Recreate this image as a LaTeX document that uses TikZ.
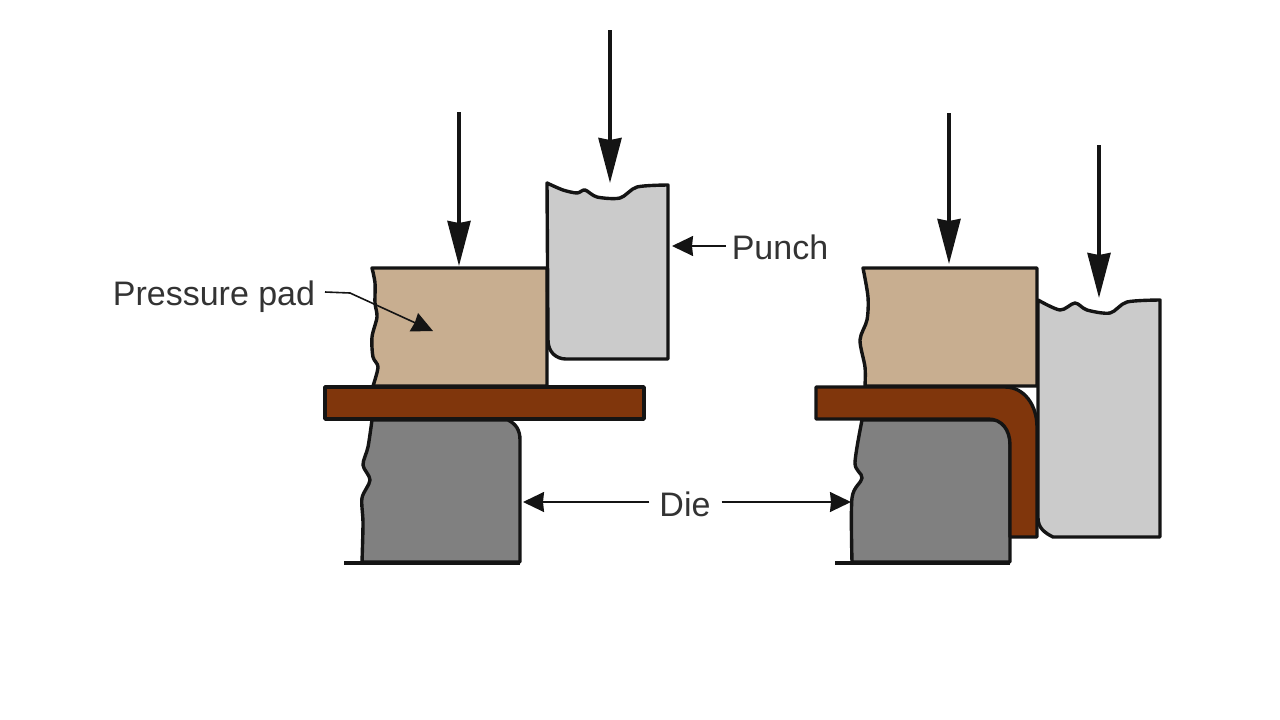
\documentclass[tikz,border=0pt]{standalone}
\usepackage{fontspec}
\setmainfont{Liberation Sans}
\usetikzlibrary{arrows.meta}
\definecolor{padc}{HTML}{C8AE90}
\definecolor{punchc}{HTML}{CBCBCB}
\definecolor{diec}{HTML}{808080}
\definecolor{platec}{HTML}{80360C}
\definecolor{inkc}{HTML}{141414}
\definecolor{labelc}{HTML}{333333}
\tikzset{
  part/.style={draw=inkc,line width=3.4pt,line join=round},
  padpart/.style={part,fill=padc},
  punchpart/.style={part,fill=punchc},
  diepart/.style={part,fill=diec},
  platepart/.style={part,fill=platec},
  force/.style={draw=inkc,line width=3.6pt,-{Stealth[length=45pt,width=23pt,inset=2pt]}},
  pointer/.style={draw=inkc,line width=1.6pt,-{Stealth[length=21pt,width=20pt,inset=1pt]}},
  lab/.style={inner sep=0pt,text=labelc,font=\fontsize{34}{34}\selectfont}
}
\begin{document}
\begin{tikzpicture}[x=1pt,y=-1pt]
\useasboundingbox (0,0) rectangle (1280,720);
% left station
\path[padpart] plot[smooth,tension=.5] coordinates {(372,268)(375,283)(375,303)(377,317)(372,337)(373,357)(378,367)(373,386)} -- (547,386) -- (547,268) -- cycle;
\path[punchpart] plot[smooth,tension=.5] coordinates {(547,183)(563,190)(577,193)(585,190)(597,197)(620,198)(637,187)(668,185)} -- (668,359) -- (566,359) .. controls (556,359) and (548,352) .. (548,340) -- cycle;
\path[diepart] plot[smooth,tension=.5] coordinates {(372,420)(368,447)(363,465)(370,480)(362,498)(363,523)(362,562)} -- (520,562) -- (520,440) .. controls (520,430) and (516,424) .. (508,420) -- cycle;
\path[part] (344,563) -- (520,563);
\path[platepart] (325,387) rectangle (644,419);
% right station
\path[padpart] plot[smooth,tension=.5] coordinates {(863,268)(868,297)(867,320)(860,340)(865,367)(865,386)} -- (1037,386) -- (1037,268) -- cycle;
\path[punchpart] plot[smooth,tension=.5] coordinates {(1038,300)(1060,310)(1075,303)(1087,310)(1110,313)(1127,302)(1160,300)} -- (1160,537) -- (1053,537) .. controls (1045,533) and (1038,528) .. (1038,518) -- cycle;
\path[diepart] plot[smooth,tension=.5] coordinates {(862,420)(855,463)(862,478)(852,498)(852,562)} -- (1010,562) -- (1010,420) -- cycle;
\path[part] (835,563) -- (1010,563);
\path[platepart] (816,387) -- (1005,387) .. controls (1024,387) and (1037,405) .. (1037,427) -- (1037,537) -- (1010,537) -- (1010,445) .. controls (1010,430) and (1002,419) .. (988,419) -- (816,419) -- cycle;
% force arrows
\coordinate (fa1) at (459,112); \coordinate (fb1) at (459,266);
\coordinate (fa2) at (610,30);  \coordinate (fb2) at (610,183);
\coordinate (fa3) at (949,113); \coordinate (fb3) at (949,264);
\coordinate (fa4) at (1099,145);\coordinate (fb4) at (1099,298);
\draw[force] (fa1) -- (fb1);
\draw[force] (fa2) -- (fb2);
\draw[force] (fa3) -- (fb3);
\draw[force] (fa4) -- (fb4);
% labels
\node[lab,anchor=center] (padlabel) at (214,297) {Pressure pad};
\node[lab,anchor=center] (punchlabel) at (780,247) {Punch};
\node[lab,anchor=center] (dielabel) at (685,504) {Die};
\coordinate (padtip) at (433,331);
\coordinate (padbend) at (350,293);
\coordinate (punchtip) at (672,246);
\coordinate (dietipl) at (523,502);
\coordinate (dietipr) at (851,502);
\draw[pointer] (325,292) -- (padbend) -- (padtip);
\draw[pointer] (punchlabel.west) ++(-6,-1) -- (punchtip);
\draw[pointer] (dielabel.west) ++(-10,-2) -- (dietipl);
\draw[pointer] (dielabel.east) ++(11,-2) -- (dietipr);
\end{tikzpicture}
\end{document}
